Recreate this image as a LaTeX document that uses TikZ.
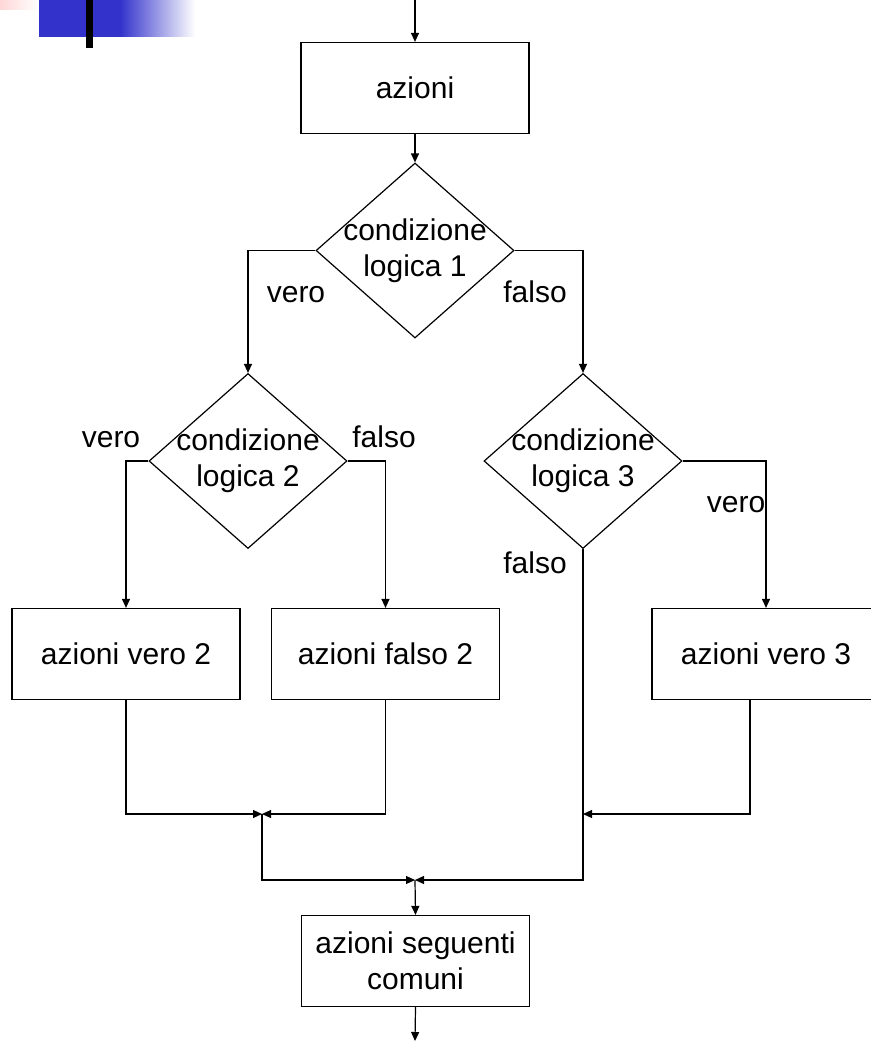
\documentclass[tikz,border=0pt]{standalone}
\usepackage{fontspec}
\setmainfont{Liberation Sans}
\usetikzlibrary{shapes.geometric,arrows.meta}

\definecolor{slideblue}{RGB}{51,51,204}
\definecolor{slidepink}{RGB}{255,215,215}

\begin{document}
\begin{tikzpicture}[x=1pt, y=-1pt,
    every node/.style={font=\fontsize{30}{36}\selectfont},
    azione/.style={draw, line width=1.2pt, rectangle, minimum width=228pt, minimum height=91pt, inner sep=0pt, align=center},
    scelta/.style={draw, line width=1.2pt, diamond, shape aspect=1.13, minimum width=198pt, minimum height=175pt, inner sep=-10pt, align=center},
    flusso/.style={line width=1.2pt, -{Triangle[length=9pt,width=8pt]}},
    etichetta/.style={anchor=base}]
    \useasboundingbox (0,0) rectangle (870,1041);

    % Slide decoration
    \shade[left color=slidepink, right color=white] (0,0) rectangle (39,10);
    \fill[slideblue] (39,0) rectangle (120,37);
    \shade[left color=slideblue, right color=white] (120,0) rectangle (195,37);
    \fill[black] (86,0) rectangle (93,48);

    % Blocks
    \node[azione] (azioni) at (415,88) {azioni};
    \node[scelta] (cond1) at (415,250.5) {condizione\\logica 1};
    \node[scelta] (cond2) at (248,461) {condizione\\logica 2};
    \node[scelta] (cond3) at (583,461) {condizione\\logica 3};
    \node[azione] (vero2) at (126,654) {azioni vero 2};
    \node[azione] (falso2) at (385.5,654) {azioni falso 2};
    \node[azione] (vero3) at (766,654) {azioni vero 3};
    \node[azione] (comuni) at (415.5,961) {azioni seguenti\\comuni};

    % Entry, exit and junctions
    \coordinate (inizio) at (415,0);
    \coordinate (fine) at (415,1041);
    \coordinate (unione2) at (262,814);
    \coordinate (unione3) at (583,814);
    \coordinate (unione) at (415,880);

    % Flow
    \draw[flusso] (inizio) -- (azioni.north);
    \draw[flusso] (azioni.south) -- (cond1.north);
    \draw[flusso] (cond1.west) -| (cond2.north);
    \draw[flusso] (cond1.east) -| (cond3.north);
    \draw[flusso] (cond2.west) -| (vero2.north);
    \draw[flusso] (cond2.east) -| (falso2.north);
    \draw[flusso] (cond3.east) -| (vero3.north);
    \draw[flusso] (vero2.south) |- (unione2);
    \draw[flusso] (falso2.south) |- (unione2);
    \draw[flusso] ([xshift=-16pt]vero3.south) |- (unione3);
    \draw[flusso] (unione2) |- (unione);
    \draw[flusso] (cond3.south) |- (unione);
    \draw[flusso] (unione) -- (comuni.north);
    \draw[flusso] (comuni.south) -- (fine);

    % Labels
    \node[etichetta] (vero1lbl) at (296,302) {vero};
    \node[etichetta] (falso1lbl) at (535,302) {falso};
    \node[etichetta] (vero2lbl) at (111,447) {vero};
    \node[etichetta] (falso2lbl) at (384,447) {falso};
    \node[etichetta] (vero3lbl) at (736,512) {vero};
    \node[etichetta] (falso3lbl) at (535,573) {falso};
\end{tikzpicture}
\end{document}
